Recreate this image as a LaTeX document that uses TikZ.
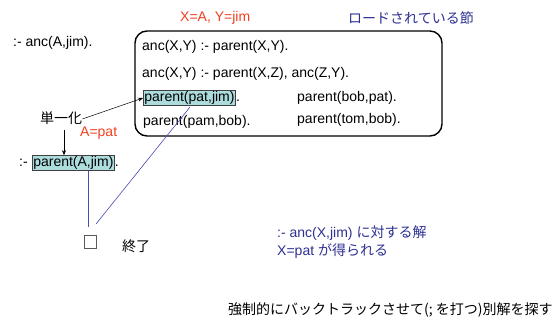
\documentclass[tikz,border=0pt]{standalone}
\usepackage{fontspec}
\setmainfont{Liberation Sans}
\newfontfamily\jp{Noto Sans CJK JP}
\usetikzlibrary{arrows.meta}
\definecolor{myred}{HTML}{F04020}
\definecolor{myblue}{HTML}{2E3192}
\definecolor{hl}{HTML}{ADDCDD}
\definecolor{lineblue}{HTML}{4A4AB8}
\tikzset{
  txt/.style={anchor=west, inner sep=0pt, font=\fontsize{14}{16}\selectfont},
  hlbox/.style={anchor=west, inner sep=1pt, fill=hl, draw=black!75, line width=0.6pt, font=\fontsize{14}{16}\selectfont},
  jtxt/.style={anchor=west, inner sep=0pt, font=\fontsize{14}{16}\selectfont\jp},
  bline/.style={draw=lineblue, line width=0.6pt},
  arr/.style={draw=black, line width=0.5pt, -{Stealth[length=5pt,width=4pt]}}
}
\begin{document}
\begin{tikzpicture}[x=1pt,y=-1pt]
\useasboundingbox (0,0) rectangle (560,327);
\fill[white] (0,0) rectangle (560,327);
% headers
\node[txt, text=myred] (xa) at (180,18) {X=A, Y=jim};
\node[jtxt, text=myblue] (load) at (348,18) {ロードされている節};
% query
\node[txt] (q) at (13,43) {:- anc(A,jim).};
% program box
\draw[line width=1.4pt, rounded corners=12pt] (135,31) rectangle (442,136);
\node[txt] (c1) at (142,47) {anc(X,Y) :- parent(X,Y).};
\node[txt] (c2) at (142,74) {anc(X,Y) :- parent(X,Z), anc(Z,Y).};
\node[hlbox] (pj) at (143,98) {parent(pat,jim)};
\node[txt, anchor=base west] (pjd) at (pj.base east) {.};
\node[txt] (pb) at (143,122) {parent(pam,bob).};
\node[txt] (bp) at (297,98) {parent(bob,pat).};
\node[txt] (tb) at (297,120) {parent(tom,bob).};
% unification
\node[jtxt] (uni) at (40,118) {単一化};
\draw[arr] ([yshift=-1pt]uni.east) -- (pj.west);
\coordinate (vtop) at (64,130);
\node[txt, text=myred] (apat) at (80,133) {A=pat};
% goal
\node[txt] (gq) at (19,163) {:-};
\node[hlbox] (pA) at (32,163) {parent(A,jim)};
\node[txt, anchor=base west] (pAd) at (pA.base east) {.};
\draw[arr] (vtop) -- (vtop |- pA.north);
% empty clause
\node[draw=black!65, fill=white, line width=1.3pt, minimum size=12.5pt, inner sep=0pt] (box) at (90.5,242) {};
\node[jtxt] (end) at (122,246) {終了};
\coordinate (b1) at (88,227);
\coordinate (b2) at (96,224);
\draw[bline] (b1 |- pA.south) -- (b1);
\draw[bline] (190,107) -- (b2);
% answer
\node[txt, text=myblue] (ans1) at (277,233) {:- anc(X,jim) {\jp に対する解}};
\node[txt, text=myblue] (ans2) at (277,251) {X=pat {\jp が得られる}};
\node[jtxt] (bt) at (228,310) {強制的にバックトラックさせて(; を打つ)別解を探す};
\end{tikzpicture}
\end{document}
